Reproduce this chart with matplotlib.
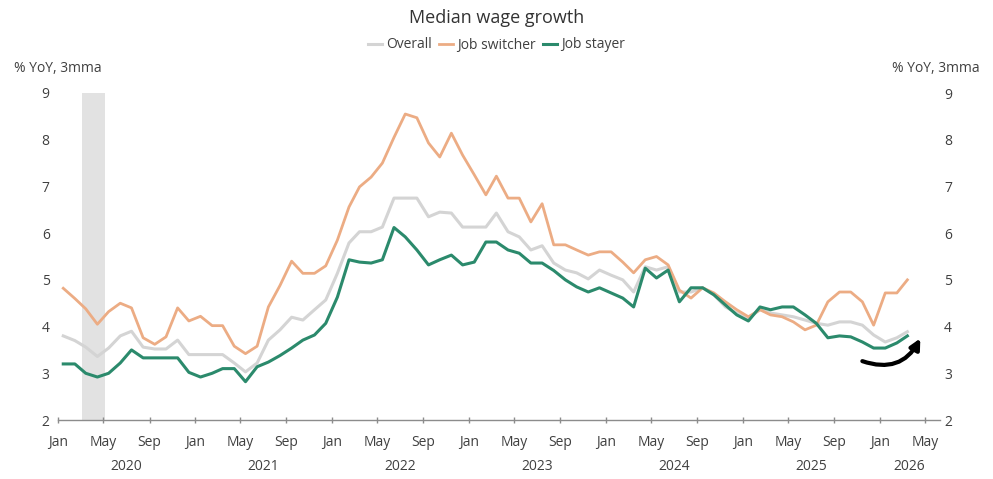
import numpy as np
import pandas as pd
import matplotlib
matplotlib.use("Agg")
import matplotlib.pyplot as plt
import matplotlib.dates as mdates
from matplotlib.patches import FancyArrowPatch
from matplotlib.transforms import blended_transform_factory

plt.rcParams['font.family'] = ['Open Sans', 'DejaVu Sans']

# Monthly observations, Jan 2020 - Mar 2026 (% YoY, 3-month moving average)
months = pd.date_range("2020-01-01", "2026-03-01", freq="MS") + pd.Timedelta(days=14)

overall = [
    3.80, 3.70, 3.56, 3.36, 3.54, 3.80, 3.90, 3.56, 3.52, 3.52, 3.71, 3.40,  # 2020
    3.40, 3.40, 3.40, 3.22, 3.03, 3.22, 3.71, 3.93, 4.20, 4.14, 4.36, 4.57,  # 2021
    5.14, 5.79, 6.03, 6.03, 6.13, 6.75, 6.75, 6.75, 6.35, 6.45, 6.43, 6.13,  # 2022
    6.13, 6.13, 6.43, 6.03, 5.92, 5.64, 5.73, 5.36, 5.21, 5.15, 5.02, 5.21,  # 2023
    5.10, 5.00, 4.74, 5.28, 5.21, 5.28, 4.74, 4.74, 4.83, 4.68, 4.42, 4.29,  # 2024
    4.18, 4.36, 4.29, 4.25, 4.21, 4.14, 4.07, 4.03, 4.10, 4.10, 4.03, 3.82,  # 2025
    3.67, 3.76, 3.89,                                                        # 2026
]
job_switcher = [
    4.82, 4.60, 4.38, 4.05, 4.32, 4.50, 4.40, 3.76, 3.62, 3.78, 4.40, 4.12,
    4.22, 4.02, 4.02, 3.58, 3.42, 3.58, 4.42, 4.88, 5.40, 5.14, 5.14, 5.30,
    5.85, 6.56, 6.99, 7.20, 7.50, 8.05, 8.55, 8.47, 7.93, 7.63, 8.14, 7.67,
    7.25, 6.82, 7.22, 6.75, 6.75, 6.24, 6.63, 5.75, 5.75, 5.64, 5.53, 5.60,
    5.60, 5.38, 5.15, 5.43, 5.50, 5.32, 4.78, 4.61, 4.83, 4.72, 4.53, 4.36,
    4.21, 4.36, 4.25, 4.21, 4.10, 3.93, 4.03, 4.53, 4.74, 4.74, 4.53, 4.03,
    4.72, 4.72, 5.00,
]
job_stayer = [
    3.20, 3.20, 3.00, 2.92, 3.00, 3.22, 3.50, 3.33, 3.33, 3.33, 3.33, 3.02,
    2.92, 3.00, 3.10, 3.10, 2.82, 3.14, 3.24, 3.38, 3.54, 3.71, 3.82, 4.07,
    4.63, 5.43, 5.38, 5.36, 5.43, 6.12, 5.92, 5.64, 5.32, 5.43, 5.53, 5.32,
    5.38, 5.81, 5.81, 5.64, 5.57, 5.36, 5.36, 5.20, 5.00, 4.85, 4.74, 4.83,
    4.72, 4.61, 4.42, 5.25, 5.04, 5.21, 4.53, 4.83, 4.83, 4.68, 4.46, 4.25,
    4.12, 4.42, 4.36, 4.42, 4.42, 4.25, 4.07, 3.76, 3.80, 3.78, 3.67, 3.54,
    3.54, 3.65, 3.80,
]

years = ["2020", "2021", "2022", "2023", "2024", "2025", "2026"]

c_overall = "#d4d4d4"
c_switch = "#ecac84"
c_stay = "#2b8a6c"
txt = "#404040"

fig = plt.figure(figsize=(9.93, 4.79), dpi=100)
ax = fig.add_axes([58 / 993, 1 - 420 / 479, 882 / 993, 327 / 479])

# recession shading
ax.axvspan(pd.Timestamp("2020-03-06"), pd.Timestamp("2020-05-04"),
           color="#e2e2e2", lw=0, zorder=0)

ax.plot(months, overall, color=c_overall, lw=2.2, label="Overall", zorder=2)
ax.plot(months, job_switcher, color=c_switch, lw=2.0, label="Job switcher", zorder=3)
ax.plot(months, job_stayer, color=c_stay, lw=2.2, label="Job stayer", zorder=4)

ax.set_xlim(pd.Timestamp("2020-01-01"), pd.Timestamp("2026-06-10"))
ax.set_ylim(2, 9)
ax.set_yticks(range(2, 10))

for s in ["top", "left", "right"]:
    ax.spines[s].set_visible(False)
ax.spines["bottom"].set_color("#8c8c8c")
ax.spines["bottom"].set_linewidth(1.0)

ax.xaxis.set_major_locator(mdates.MonthLocator(bymonth=[1, 5, 9]))
ax.xaxis.set_major_formatter(mdates.DateFormatter("%b"))
ax.tick_params(axis="x", direction="inout", length=5, width=1, color="#8c8c8c",
               labelsize=10, labelcolor=txt, pad=8)
ax.tick_params(axis="y", length=0, labelsize=10, labelcolor=txt, pad=6)

ax2 = ax.twinx()
ax2.set_ylim(2, 9)
ax2.set_yticks(range(2, 10))
for s in ["top", "left", "right", "bottom"]:
    ax2.spines[s].set_visible(False)
ax2.tick_params(axis="y", length=0, labelsize=10, labelcolor=txt, pad=3)

# year labels under the month ticks
trans = blended_transform_factory(ax.transData, ax.transAxes)
for y in years:
    if y == "2026":
        mid = pd.Timestamp("2026-03-20")
    else:
        mid = pd.Timestamp(f"{y}-07-01")
    ax.text(mid, -0.141, y, transform=trans, ha="center", va="center",
            fontsize=10, color=txt)

# curved arrow marking the recent pick-up
arrow = FancyArrowPatch((pd.Timestamp("2025-11-08"), 3.28),
                        (pd.Timestamp("2026-04-22"), 3.80),
                        connectionstyle="arc3,rad=0.45",
                        arrowstyle="-|>", mutation_scale=15,
                        lw=3.0, color="black", zorder=5)
ax.add_patch(arrow)

fig.text(0.5, 1 - 18 / 479, "Median wage growth", ha="center", va="center",
         fontsize=13, color="#333333")
fig.legend(loc="center", bbox_to_anchor=(0.5, 1 - 45 / 479), ncol=3, frameon=False,
           fontsize=10, handlelength=1.0, handletextpad=0.3, columnspacing=0.5,
           labelcolor=txt)
fig.text(58 / 993, 1 - 68 / 479, "% YoY, 3mma", ha="center", va="center",
         fontsize=10, color=txt)
fig.text(936 / 993, 1 - 68 / 479, "% YoY, 3mma", ha="center", va="center",
         fontsize=10, color=txt)

fig.savefig("out.png", dpi=100)
